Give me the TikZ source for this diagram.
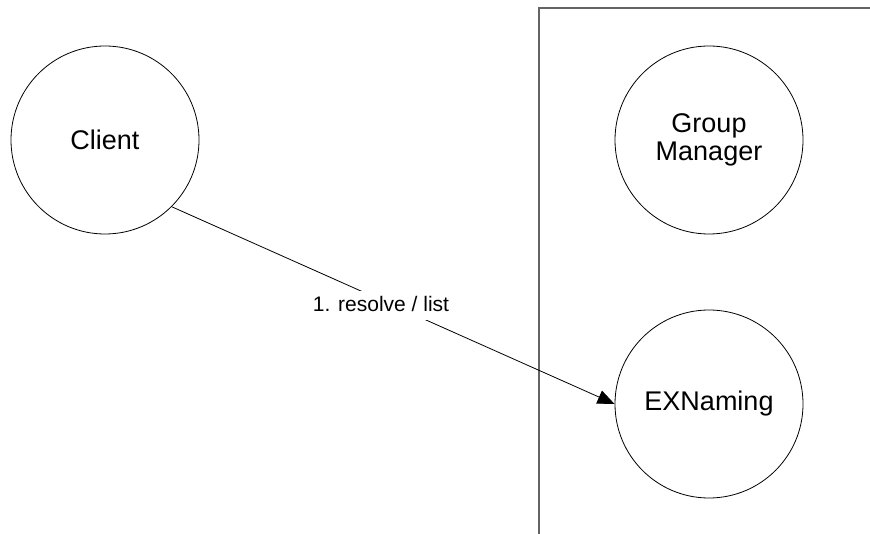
\documentclass[tikz,border=0pt]{standalone}
\usepackage{fontspec}
\setmainfont{Liberation Sans}
\usetikzlibrary{arrows.meta}
\begin{document}
\begin{tikzpicture}[x=1pt,y=-1pt,
  proc/.style={circle,draw=black,line width=0.8pt,minimum size=188pt,inner sep=0pt,align=center,font=\fontsize{27}{28}\selectfont},
  frame/.style={draw={rgb,255:red,100;green,100;blue,100},line width=1.3pt},
  msg/.style={draw=black,line width=0.8pt,-{Triangle[length=17pt,width=14pt]}},
  lbl/.style={fill=white,font=\fontsize{21}{22}\selectfont,inner xsep=1pt,inner ysep=4pt,text height=16pt,text depth=5pt}]
\useasboundingbox (0,0) rectangle (870,534);
\coordinate (ftop) at (539,8);
\coordinate (fright) at (872,8);
\coordinate (fbot) at (539,536);
\draw[frame] (fright) -- (ftop) -- (fbot);
\node[proc] (client) at (105,140) {Client};
\node[proc] (gm) at (709,140) {Group\\Manager};
\node[proc] (exn) at (709,404) {EXNaming};
\draw[msg] (client.-45) -- (exn.west);
\node[lbl] (l1) at (381,306) {1. resolve / list};
\end{tikzpicture}
\end{document}
